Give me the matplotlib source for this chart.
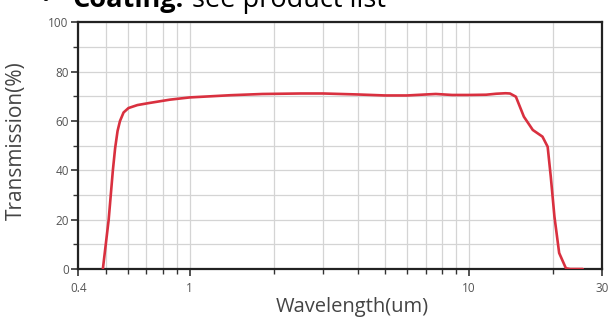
import matplotlib
matplotlib.use("Agg")
import matplotlib.pyplot as plt
from matplotlib.ticker import FixedLocator, NullFormatter

# transmission curve
wavelength_um = [0.489, 0.513, 0.531, 0.541, 0.552, 0.563, 0.580, 0.604, 0.65,
                 0.713, 0.85, 1.0, 1.4, 1.82, 2.5, 3.0, 4.0, 5.0, 6.0, 7.0,
                 7.6, 8.7, 10.0, 11.5, 12.5, 13.5, 14.0, 14.7, 15.7, 16.9,
                 18.3, 19.1, 19.6, 20.2, 21.0, 22.2, 23.0, 25.5]
transmission = [0, 20, 40, 49, 56, 60, 63.5, 65.3, 66.5,
                67.3, 68.7, 69.6, 70.5, 71.0, 71.2, 71.2, 70.8, 70.4, 70.4, 70.8,
                71.0, 70.6, 70.6, 70.7, 71.1, 71.3, 71.2, 69.9, 61.8, 56.4,
                53.7, 49.6, 37.4, 21.2, 6.5, 0.3, 0, 0]

x_major = [0.4, 1, 10, 30]
x_major_labels = ["0.4", "1", "10", "30"]
x_minor = [0.5, 0.6, 0.7, 0.8, 0.9, 2, 3, 4, 5, 6, 7, 8, 9, 20]
y_major = [0, 20, 40, 60, 80, 100]
y_minor = [10, 30, 50, 70, 90]

LABEL_FONT = ["Open Sans", "DejaVu Sans"]
TICK_COLOR = "#555555"
HEAD_FONT = ["Open Sans", "DejaVu Sans"]

fig = plt.figure(figsize=(6.16, 3.19), dpi=100)
ax = fig.add_axes([0.1274, 0.1567, 0.8506, 0.7728])

ax.set_xscale("log")
ax.set_xlim(0.4, 30)
ax.set_ylim(0, 100)

ax.xaxis.set_major_locator(FixedLocator(x_major))
ax.xaxis.set_minor_locator(FixedLocator(x_minor))
ax.set_xticks(x_major, x_major_labels)
ax.xaxis.set_minor_formatter(NullFormatter())
ax.set_yticks(y_major)
ax.yaxis.set_minor_locator(FixedLocator(y_minor))

# grid on every major and minor position
ax.grid(True, which="both", color="#d4d4d4", linewidth=0.9)
ax.set_axisbelow(True)

ax.plot(wavelength_um, transmission, color="#d9303f", linewidth=1.9,
        solid_capstyle="round", solid_joinstyle="round", zorder=3)

for side in ["left", "bottom", "top", "right"]:
    ax.spines[side].set_color("#222222")
    ax.spines[side].set_linewidth(1.6)

ax.tick_params(which="major", direction="out", length=5, width=1.2,
               color="#333333", labelcolor=TICK_COLOR, labelsize=8.5)
ax.tick_params(which="minor", direction="out", length=3.5, width=1.0,
               color="#333333")
ax.tick_params(axis="x", which="major", pad=4)
ax.tick_params(axis="y", which="major", pad=2)
for lbl in ax.get_xticklabels() + ax.get_yticklabels():
    lbl.set_family(LABEL_FONT)

ax.set_xlabel("Wavelength(um)", family=LABEL_FONT, fontsize=14.5,
              color="#444444")
ax.xaxis.set_label_coords(0.522, -0.115)
ax.set_ylabel("Transmission(%)", family=LABEL_FONT, fontsize=15,
              color="#444444")
ax.yaxis.set_label_coords(-0.098, 0.52)

# cut-off heading from the surrounding document
renderer = fig.canvas.get_renderer()
fig.text(0.066, 0.978, "\u2022", fontsize=19, color="black", va="baseline",
         family=HEAD_FONT)
head = fig.text(0.118, 0.978, "Coating:", fontsize=19.5, fontweight="bold",
                color="black", va="baseline", family=HEAD_FONT)
box = head.get_window_extent(renderer=renderer)
fig.text((box.x1 + 8) / fig.bbox.width, 0.978, "see product list",
         fontsize=19.5, color="black", va="baseline", family=HEAD_FONT)

fig.savefig("out.png", dpi=100)
